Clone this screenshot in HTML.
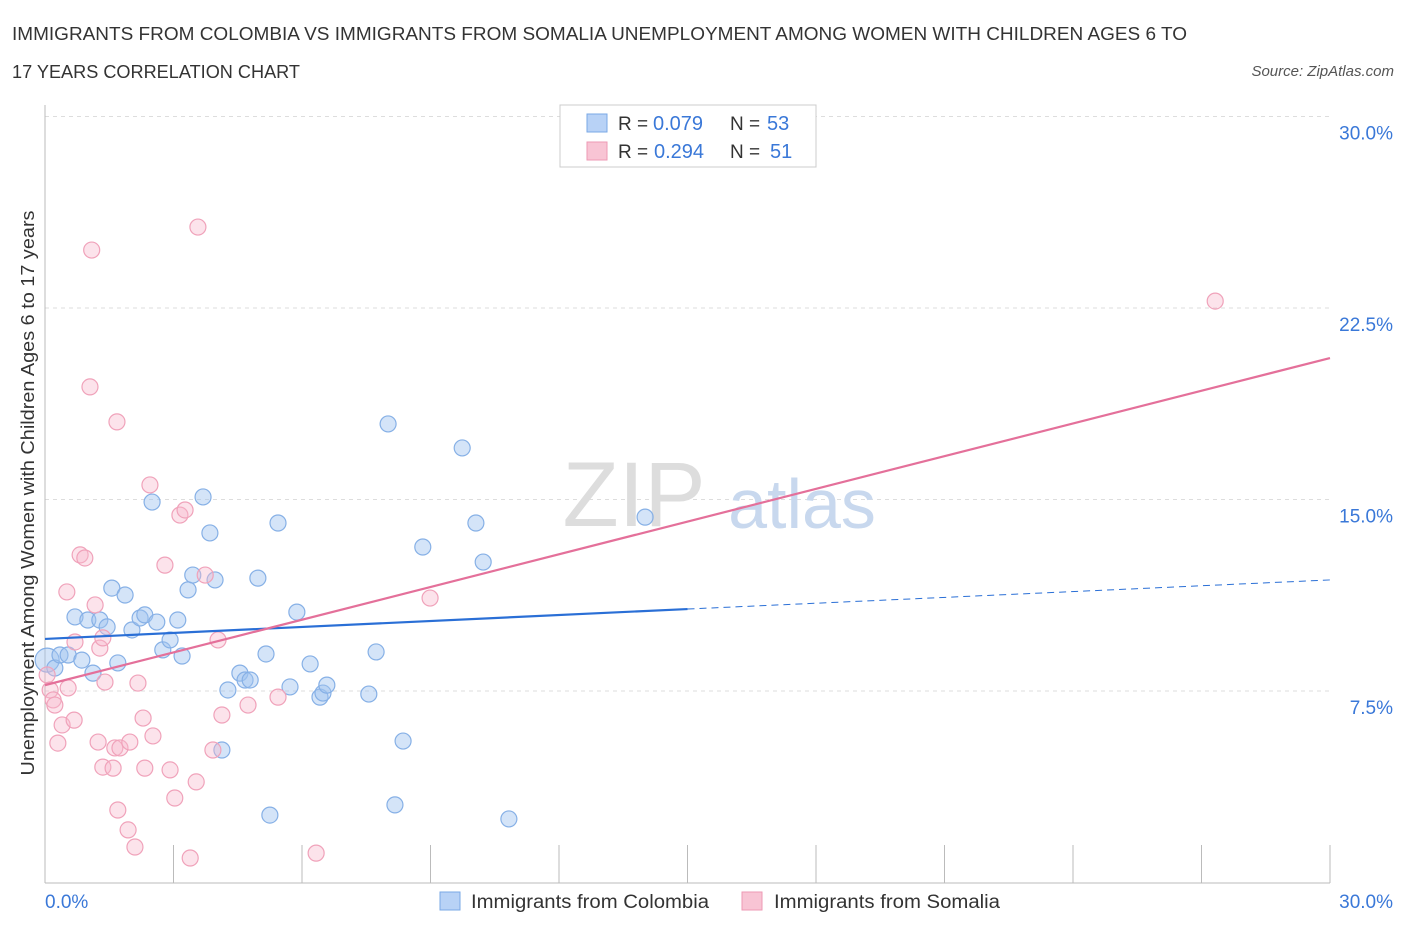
<!DOCTYPE html>
<html><head><meta charset="utf-8"><style>
body{margin:0;background:#fff;font-family:"Liberation Sans",sans-serif;}
svg text{font-family:"Liberation Sans",sans-serif;}
</style></head><body>
<svg width="1406" height="930" viewBox="0 0 1406 930">
<text x="12" y="40" font-size="18" fill="#333" textLength="1175" lengthAdjust="spacingAndGlyphs">IMMIGRANTS FROM COLOMBIA VS IMMIGRANTS FROM SOMALIA UNEMPLOYMENT AMONG WOMEN WITH CHILDREN AGES 6 TO</text>
<text x="12" y="78" font-size="18" fill="#333" textLength="288" lengthAdjust="spacingAndGlyphs">17 YEARS CORRELATION CHART</text>
<text x="1394" y="76" font-size="15" fill="#555" font-style="italic" text-anchor="end">Source: ZipAtlas.com</text>
<g id="grid"></g>
<text x="634" y="526" font-size="92" fill="#ddd" text-anchor="middle" font-family="Liberation Serif,serif">ZIP</text>
<text x="802" y="528" font-size="70" fill="#c8d8ee" text-anchor="middle">atlas</text>
<g id="marks"></g>
<text x="34" y="493" font-size="18" fill="#333" text-anchor="middle" textLength="565" lengthAdjust="spacingAndGlyphs" transform="rotate(-90 34 493)">Unemployment Among Women with Children Ages 6 to 17 years</text>
<text x="45" y="908" font-size="19" fill="#3a78d8">0.0%</text>
<text x="1393" y="908" font-size="19" fill="#3a78d8" text-anchor="end">30.0%</text>
<g>
<rect x="560" y="105" width="256" height="62" fill="#fff" stroke="#ccc"/>
<rect x="587" y="114" width="20" height="18" fill="#b8d2f6" stroke="#7aa8e6"/>
<rect x="587" y="142" width="20" height="18" fill="#f8c4d4" stroke="#ee9ab4"/>
<text x="618" y="130" font-size="19" fill="#333">R =</text>
<text x="653" y="130" font-size="20" fill="#3a78d8">0.079</text>
<text x="730" y="130" font-size="19" fill="#333">N =</text>
<text x="767" y="130" font-size="20" fill="#3a78d8">53</text>
<text x="618" y="158" font-size="19" fill="#333">R =</text>
<text x="654" y="158" font-size="20" fill="#3a78d8">0.294</text>
<text x="730" y="158" font-size="19" fill="#333">N =</text>
<text x="770" y="158" font-size="20" fill="#3a78d8">51</text>
</g>
<g>
<rect x="440" y="892" width="20" height="18" fill="#b8d2f6" stroke="#7aa8e6"/>
<text x="471" y="908" font-size="19" fill="#333" textLength="238" lengthAdjust="spacingAndGlyphs">Immigrants from Colombia</text>
<rect x="742" y="892" width="20" height="18" fill="#f8c4d4" stroke="#ee9ab4"/>
<text x="774" y="908" font-size="19" fill="#333" textLength="226" lengthAdjust="spacingAndGlyphs">Immigrants from Somalia</text>
</g>
</svg>
<script>
const yTicks=[7.5,15,22.5,30];
const yTickLabels=["7.5%","15.0%","22.5%","30.0%"];
const xTicks=[0,3,6,9,12,15,18,21,24,27,30];
const colombiaX=[0.05,0.23,0.35,0.54,0.70,0.86,1.00,1.12,1.28,1.45,1.56,1.70,1.87,2.03,2.22,2.33,2.50,2.61,2.75,2.92,3.10,3.20,3.34,3.45,3.69,3.85,3.97,4.13,4.27,4.55,4.67,4.79,4.97,5.16,5.25,5.44,5.72,5.88,6.19,6.42,6.49,6.58,7.56,7.73,8.01,8.17,8.36,8.82,9.74,10.06,10.23,10.83,14.01];
const colombiaY=[8.71,8.40,8.91,8.91,10.40,8.71,10.28,8.20,10.28,10.01,11.53,8.60,11.26,9.89,10.36,10.48,14.90,10.20,9.11,9.50,10.28,8.87,11.46,12.04,15.10,13.69,11.85,5.19,7.54,8.20,7.93,7.93,11.92,8.95,2.64,14.08,7.66,10.59,8.56,7.26,7.42,7.73,7.38,9.03,17.96,3.04,5.54,13.14,17.02,14.08,12.55,2.49,14.31];
const somaliaX=[0.05,0.12,0.19,0.23,0.30,0.40,0.51,0.54,0.68,0.70,0.82,0.93,1.05,1.09,1.17,1.28,1.35,1.24,1.40,1.35,1.59,1.63,1.70,1.75,1.68,1.94,1.98,2.10,2.17,2.29,2.33,2.52,2.45,2.80,2.92,3.03,3.15,3.27,3.39,3.53,3.57,3.74,3.92,4.04,4.13,4.74,5.44,6.33,8.99,27.32];
const somaliaY=[8.13,7.54,7.15,6.95,5.46,6.17,11.38,7.62,6.36,9.42,12.83,12.71,19.41,24.77,10.87,9.18,9.58,5.50,7.85,4.52,4.48,5.27,2.84,5.27,18.04,2.06,5.50,1.39,7.81,6.44,4.48,5.74,15.57,12.43,4.41,3.31,14.39,14.59,0.96,3.94,25.67,12.04,5.19,9.50,6.56,6.95,7.26,1.15,11.14,22.77];
const colombiaTrend=[9.54,10.71,11.85]; // at x=0,15,30
const somaliaTrend=[7.73,20.54]; // at x=0,30
const X=v=>45+v/30*1285, Y=v=>882.5-v/7.5*191.5;
const NS="http://www.w3.org/2000/svg";
function mk(t,a,p){const e=document.createElementNS(NS,t);for(const k in a)e.setAttribute(k,a[k]);p.appendChild(e);return e;}
const grid=document.getElementById('grid'), marks=document.getElementById('marks');
yTicks.forEach((v,i)=>{
 const l=mk('line',{x1:45,x2:1330,y1:Y(v),y2:Y(v),stroke:'#ddd','stroke-dasharray':'4,4'},grid);
 
 
 const t=mk('text',{x:1393,y:Y(v)+23,'font-size':19,fill:'#3a78d8','text-anchor':'end'},grid);
 t.textContent=yTickLabels[i];
 
 
});
const ax=mk('line',{x1:45,x2:45,y1:105,y2:883,stroke:'#bbb'},grid);


const bx=mk('line',{x1:45,x2:1330,y1:883,y2:883,stroke:'#bbb'},grid);


xTicks.forEach(v=>{
 const l=mk('line',{x1:X(v),x2:X(v),y1:845,y2:883,stroke:'#bbb'},grid);
 
 
});
colombiaX.forEach((v,i)=>{
 const c=mk('circle',{cx:X(v),cy:Y(colombiaY[i]),r:i==0?12:8,fill:'rgba(160,196,240,0.45)',stroke:'#86b0e6','stroke-width':1.2},marks);
 
 
});
somaliaX.forEach((v,i)=>{
 const c=mk('circle',{cx:X(v),cy:Y(somaliaY[i]),r:8,fill:'rgba(248,185,205,0.4)',stroke:'#f0a2ba','stroke-width':1.2},marks);
 
 
});
const b1=mk('line',{x1:X(0),y1:Y(colombiaTrend[0]),x2:X(15),y2:Y(colombiaTrend[1]),stroke:'#2a6fd6','stroke-width':2.2},marks);


const b2=mk('line',{x1:X(15),y1:Y(colombiaTrend[1]),x2:X(30),y2:Y(colombiaTrend[2]),stroke:'#2a6fd6','stroke-width':1,'stroke-dasharray':'7,5'},marks);


const p1=mk('line',{x1:X(0),y1:Y(somaliaTrend[0]),x2:X(30),y2:Y(somaliaTrend[1]),stroke:'#e4709a','stroke-width':2.2},marks);


</script>
</body></html>
